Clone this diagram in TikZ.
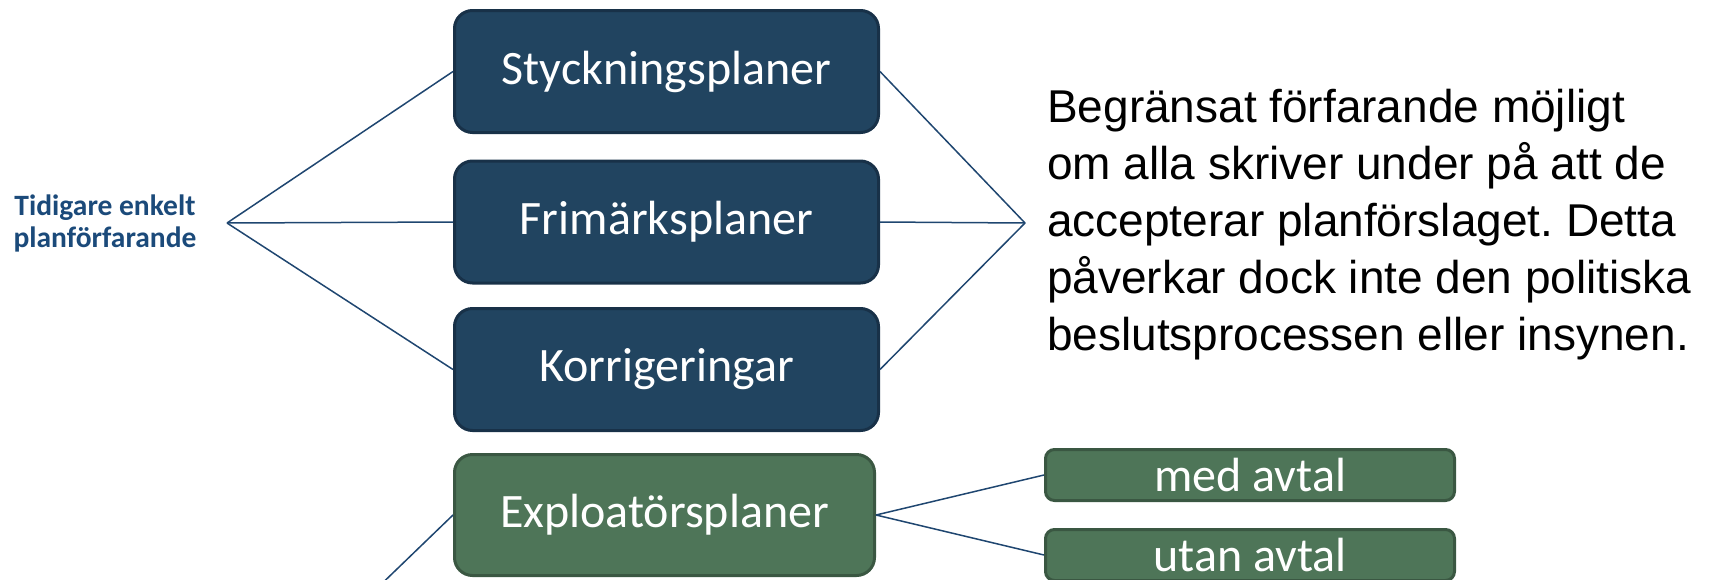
\documentclass[tikz,border=0pt]{standalone}
\usepackage{fontspec}
\usepackage{tikz}
\setmainfont{Carlito}
\newfontfamily\arialfont{Liberation Sans}
\frenchspacing

\definecolor{boxblue}{RGB}{33,68,96}
\definecolor{boxblueline}{RGB}{24,49,72}
\definecolor{boxgreen}{RGB}{78,117,88}
\definecolor{boxgreenline}{RGB}{58,87,66}
\definecolor{fanblue}{RGB}{31,70,112}
\definecolor{labelblue}{RGB}{27,74,122}

\tikzset{
  planbox/.style={draw=boxblueline, fill=boxblue, line width=3pt, rounded corners=18pt,
    minimum width=424pt, minimum height=122pt, inner sep=0pt, text=white,
    font=\fontsize{48}{58}\selectfont},
  greenbox/.style={planbox, draw=boxgreenline, fill=boxgreen},
  avtalbox/.style={greenbox, rounded corners=9pt, minimum width=409pt, minimum height=51pt},
  fan/.style={draw=fanblue, line width=1.5pt}
}

\begin{document}
\begin{tikzpicture}[x=1pt,y=-1pt]
  \useasboundingbox (0,0) rectangle (1725,579);
  \clip (0,0) rectangle (1725,579);
  \node[text=labelblue, align=center, inner sep=0pt,
    font=\bfseries\fontsize{29.5}{32}\selectfont] (label) at (105,223.5) {Tidigare enkelt\\planförfarande};
  \coordinate (lfan) at (227,223);
  \coordinate (rfan) at (1025,223);
  \coordinate (xfan) at (227,733);
  \node[planbox] (styck) at (666.5,71.5) {Styckningsplaner};
  \node[planbox] (frim) at (666.5,222) {Frimärksplaner};
  \node[planbox] (korr) at (666.5,369.5) {Korrigeringar};
  \node[greenbox, minimum width=420pt, minimum height=121pt] (exploat) at (664.5,515) {Exploatörsplaner};
  \node[avtalbox] (med) at (1250,475) {med avtal};
  \node[avtalbox] (utan) at (1250,555) {utan avtal};
  \node[anchor=west, align=left, inner sep=0pt,
    font=\arialfont\fontsize{46}{57}\selectfont] (note) at (1047,225)
    {Begränsat förfarande möjligt\\om alla skriver under på att de\\accepterar planförslaget. Detta\\påverkar dock inte den politiska\\beslutsprocessen eller insynen.};
  \path [fan] (lfan) edge (styck.west);
  \path [fan] (lfan) edge (frim.west);
  \path [fan] (lfan) edge (korr.west);
  \path [fan] (styck.east) edge (rfan);
  \path [fan] (frim.east) edge (rfan);
  \path [fan] (korr.east) edge (rfan);
  \path [fan] (xfan) edge (exploat.west);
  \path [fan] (exploat.east) edge (med.west);
  \path [fan] (exploat.east) edge (utan.west);
\end{tikzpicture}
\end{document}
